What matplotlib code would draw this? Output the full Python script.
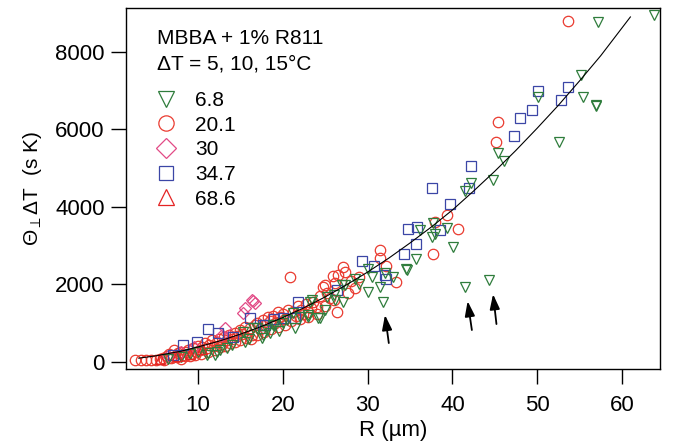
import matplotlib
matplotlib.use("Agg")
import matplotlib.pyplot as plt
from matplotlib.lines import Line2D

plt.rcParams['font.family'] = ['Liberation Sans', 'DejaVu Sans']
plt.rcParams['mathtext.fontset'] = 'custom'
plt.rcParams['mathtext.rm'] = 'Liberation Sans'
plt.rcParams['mathtext.it'] = 'Liberation Sans'

# series 6.8 (green, down triangles)
g_R = [63.8, 57.2, 55.2, 55.4, 56.9, 57.0, 52.6, 50.1, 45.4, 46.1, 44.8, 42.2, 41.5,
       39.4, 37.7, 37.6, 36.2, 40.1, 35.7, 34.5, 32.1, 31.5, 30.0, 30.1, 30.5, 28.5,
       31.8, 41.5, 44.3, 34.6, 27.1, 27.0, 26.2, 25.2, 23.4, 23.0, 24.2, 21.4, 19.1,
       18.5, 17.7, 16.5, 15.3, 12.2, 12.6, 13.4, 11.2, 15.5, 17.0, 18.1, 18.8, 20.5,
       23.2, 24.4, 23.0, 26.0, 27.3, 21.2, 17.5, 12.0, 11.0, 6.5, 8.0, 9.0, 10.0,
       14.0, 16.0, 19.5, 20.0, 22.0, 25.0, 29.0, 33.0, 38.0]
g_Y = [8950, 8780, 7400, 6840, 6600, 6620, 5680, 6840, 5400, 5190, 4700, 4620, 4410,
       3460, 3580, 3230, 3400, 2970, 2650, 2400, 2290, 1940, 1810, 2400, 2200, 2140,
       1550, 1930, 2115, 2370, 1550, 1990, 1600, 1680, 1600, 1160, 1135, 880, 955,
       750, 700, 880, 775, 260, 310, 360, 230, 520, 880, 825, 955, 1085,
       1550, 1135, 1210, 1730, 1990, 1265, 620, 180, 180, 80, 120, 200, 250,
       450, 600, 800, 1000, 1150, 1350, 2000, 2200, 3300]

# series 20.1 (red circles)
r_R = [2.5, 3.3, 3.9, 4.5, 5.0, 5.5, 5.9, 6.3, 6.6, 7.0, 7.2, 7.6, 7.9, 8.2, 8.5, 8.8,
       9.1, 9.4, 9.7, 10.0, 10.2, 10.5, 10.8, 11.0, 11.3, 11.6, 11.9, 12.2, 12.5, 12.8,
       13.1, 13.4, 13.7, 14.0, 14.3, 14.6, 14.9, 15.2, 15.5, 15.8, 16.1, 16.4, 16.7,
       17.0, 17.3, 17.6, 17.9, 18.2, 18.5, 18.8, 19.1, 19.4, 19.7, 20.0, 20.3, 20.6,
       20.9, 21.2, 21.5, 21.8, 22.1, 22.4, 22.7, 23.0, 23.3, 23.6, 24.0, 24.4, 24.7,
       25.0, 25.2, 25.6, 25.9, 26.2, 26.5, 26.4, 27.1, 27.3, 27.7, 28.0, 28.5, 29.0,
       31.5, 31.5, 32.2, 33.3, 37.7, 37.9, 39.4, 40.7, 45.1, 45.4, 53.6,
       6.0, 6.8, 7.5, 8.0, 8.6, 9.0, 9.6, 10.4, 11.2, 12.0, 12.6, 13.2, 13.8, 14.4,
       15.0, 15.6, 16.2, 17.0, 17.8, 18.6, 19.4, 20.2, 21.0, 22.0, 23.0, 24.0, 25.0, 26.0]
r_Y = [50, 50, 50, 60, 60, 80, 110, 150, 200, 130, 300, 230, 260, 180, 150, 300,
       220, 350, 260, 420, 300, 380, 480, 350, 440, 560, 420, 520, 600, 460,
       650, 560, 700, 600, 760, 660, 820, 720, 900, 780, 880, 700, 950,
       1000, 850, 1080, 950, 1150, 1050, 1200, 1000, 1300, 1150, 1250, 1100, 1350,
       2190, 1300, 1200, 1450, 1350, 1250, 1500, 1160, 1400, 1550, 1420, 1700, 1930,
       1990, 1780, 1650, 2220, 2050, 2240, 1290, 2450, 2320, 1780, 2100, 1910, 2200,
       2890, 2680, 2480, 2065, 2790, 3610, 3790, 3430, 5680, 6190, 8800,
       60, 100, 120, 90, 250, 150, 180, 200, 260, 300, 380, 420, 480, 520,
       560, 620, 600, 700, 780, 860, 900, 950, 1050, 1100, 1300, 1250, 1450, 1600]

# series 30 (pink diamonds)
p_R = [16.5, 15.5, 15.3, 16.4, 16.7, 13.2, 12.8, 9.5, 8.0, 6.5]
p_Y = [1575, 1395, 1265, 1600, 1520, 880, 700, 400, 250, 150]

# series 34.7 (blue squares)
b_R = [50.1, 53.6, 52.8, 49.4, 48.0, 47.3, 42.2, 42.0, 37.6, 39.7, 34.8, 35.8, 38.5,
       35.7, 34.3, 29.3, 30.8, 32.1, 32.2, 26.4, 21.8, 21.4, 20.0, 16.1, 17.9, 11.2,
       12.4, 9.9, 8.2, 7.0, 14.1, 17.7, 19.0]
b_Y = [6990, 7100, 6760, 6500, 6290, 5830, 5060, 4490, 4490, 4080, 3430, 3480, 3400,
       3040, 2790, 2600, 2480, 2240, 2150, 1860, 1550, 1135, 1135, 1135, 955, 860,
       750, 520, 440, 180, 650, 955, 1100]

# series 68.6 (red up triangles)
t_R = [5.5, 7.5, 9.0, 10.5]
t_Y = [80, 150, 220, 330]

# fitted curve
fit_R = [3, 5, 8, 10, 12.5, 15, 17.5, 20, 22.5, 25, 27.5, 30, 32.5, 35, 37.5, 40,
         42.5, 45, 47.5, 50, 52.5, 55, 57.5, 61]
fit_Y = [100, 160, 280, 390, 540, 720, 920, 1150, 1400, 1680, 1990, 2320, 2680, 3070,
         3480, 3920, 4410, 4920, 5460, 6030, 6620, 7250, 7900, 8900]

# arrows pointing at the low 6.8 points: (tip R, tip Y, tail R, tail Y)
arrows = [(32.05, 1213, 32.5, 490), (41.8, 1570, 42.3, 826), (44.8, 1750, 45.2, 980)]

green = '#2f7d3c'
red = '#ea3b30'
pink = '#e24a86'
blue = '#3b46a6'
red2 = '#e42424'

fig = plt.figure(figsize=(6.74, 4.46), dpi=100)
ax = fig.add_axes([0.187, 0.1726, 0.7923, 0.8094])

ms = 7.5
mew = 0.9
ax.plot(r_R, r_Y, 'o', ls='none', mfc='none', mec=red, ms=ms, mew=mew)
ax.plot(p_R, p_Y, 'D', ls='none', mfc='none', mec=pink, ms=ms * 0.85, mew=mew)
ax.plot(b_R, b_Y, 's', ls='none', mfc='none', mec=blue, ms=ms * 0.9, mew=mew)
ax.plot(g_R, g_Y, 'v', ls='none', mfc='none', mec=green, ms=ms * 1.05, mew=mew)
ax.plot(t_R, t_Y, '^', ls='none', mfc='none', mec=red2, ms=ms * 1.05, mew=mew)
ax.plot(fit_R, fit_Y, '-', color='black', lw=0.8)

for tx, ty, sx, sy in arrows:
    ax.annotate('', xy=(tx, ty), xytext=(sx, sy),
                arrowprops=dict(arrowstyle='-|>,head_length=0.9,head_width=0.3',
                                color='black', lw=1.3, shrinkA=0, shrinkB=0))

ax.set_xlim(1.5, 64.5)
ax.set_ylim(-180, 9130)
ax.set_xticks([10, 20, 30, 40, 50, 60])
ax.set_yticks([0, 2000, 4000, 6000, 8000])
ax.tick_params(direction='out', length=10.5, width=1, labelsize=16, pad=5,
               top=False, right=False)
ax.tick_params(axis='x', pad=8)
for s in ax.spines.values():
    s.set_linewidth(1.0)

ax.set_xlabel('R (\u00b5m)', fontsize=16, labelpad=3)
ax.set_ylabel(r'$\Theta_{\perp}\Delta$T  (s K)', fontsize=15, labelpad=8)

ax.text(0.058, 0.915, 'MBBA + 1% R811', transform=ax.transAxes, fontsize=15,
        va='center', ha='left')
ax.text(0.058, 0.846, '\u0394T = 5, 10, 15\u00b0C', transform=ax.transAxes,
        fontsize=15, va='center', ha='left')

handles = [
    Line2D([], [], ls='none', marker='v', mfc='none', mec=green, ms=11, mew=mew),
    Line2D([], [], ls='none', marker='o', mfc='none', mec=red, ms=11, mew=mew),
    Line2D([], [], ls='none', marker='D', mfc='none', mec=pink, ms=10, mew=mew),
    Line2D([], [], ls='none', marker='s', mfc='none', mec=blue, ms=10, mew=mew),
    Line2D([], [], ls='none', marker='^', mfc='none', mec=red2, ms=11, mew=mew),
]
labels = ['6.8', '20.1', '30', '34.7', '68.6']
ax.legend(handles, labels, loc='upper left', bbox_to_anchor=(0.052, 0.77),
          frameon=False, fontsize=15, handlelength=1.2, handletextpad=0.8,
          labelspacing=0.27, borderaxespad=0, borderpad=0)

fig.savefig('out.png', dpi=100)
